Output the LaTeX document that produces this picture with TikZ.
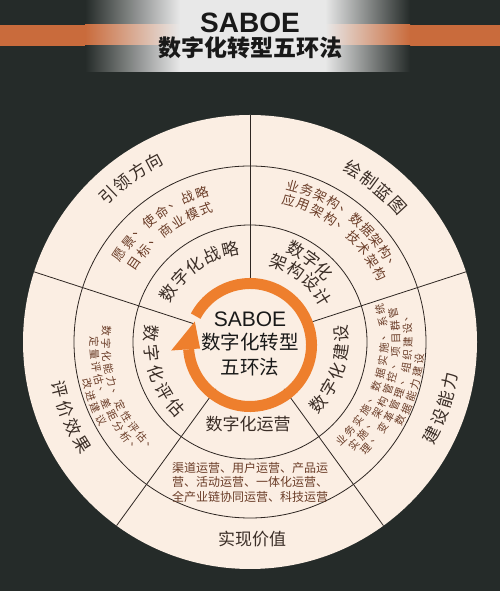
\documentclass[tikz,border=0pt]{standalone}
\usepackage{fontspec}
\newfontfamily\cjk{Noto Sans CJK SC}
\newfontfamily\lat{Liberation Sans}
\definecolor{bgc}{HTML}{252B29}
\definecolor{cream}{HTML}{FBEEE3}
\definecolor{orng}{HTML}{EE7F2D}
\definecolor{stripe}{HTML}{C96B3C}
\definecolor{panel}{HTML}{E8E8E8}
\definecolor{linec}{HTML}{2E2622}
\definecolor{txt}{HTML}{3A2D26}
\definecolor{dtxt}{HTML}{6A3C27}
% characters set along an arc round the wheel centre
% #1 name prefix, #2 centre angle, #3 radius of char centres, #4 pitch,
% #5 style, #6 direction (-1 clockwise, tops out; 1 counter-clockwise, tops in), #7 count, #8 list
\newcommand\arcchars[8]{%
  \foreach \ch [count=\i] in {#8} {%
    \pgfmathsetmacro\aa{#2+(#6)*(\i-(#7+1)/2)*(#4)/(#3)*57.29578}%
    \pgfmathsetmacro\rr{\aa+(#6)*90}%
    \node[#5,rotate=\rr] (#1-\i) at (\aa:#3) {\ch};
  }}
\tikzset{
  ringline/.style={draw=linec,line width=0.8pt},
  bigc/.style={font=\cjk\fontsize{17}{17}\selectfont,text=txt,inner sep=0pt,anchor=center},
  midc/.style={font=\cjk\fontsize{13}{13}\selectfont,text=dtxt,inner sep=0pt,anchor=center},
  smallc/.style={font=\cjk\fontsize{10.5}{10.5}\selectfont,text=dtxt,inner sep=0pt,anchor=center},
  htext/.style={font=\cjk\fontsize{17}{17}\selectfont,text=txt,inner sep=0pt},
  dtext/.style={font=\cjk\fontsize{12}{12}\selectfont,text=dtxt,inner sep=0pt},
  ctext/.style={font=\cjk\fontsize{19.5}{19.5}\selectfont,text=black!90,inner sep=0pt}
}
\begin{document}
\begin{tikzpicture}[x=1pt,y=1pt]
\useasboundingbox (0,0) rectangle (500,591);
\fill[bgc] (0,0) rectangle (500,591);
% title band
\fill[stripe] (0,545) rectangle (500,566);
\shade[left color=bgc,right color=panel] (85,566) rectangle (180,591);
\shade[left color=stripe,right color=panel] (85,545) rectangle (180,566);
\shade[left color=bgc,right color=panel] (85,519) rectangle (180,545);
\fill[panel] (180,519) rectangle (325,591);
\shade[left color=panel,right color=bgc] (325,566) rectangle (410,591);
\shade[left color=panel,right color=stripe] (325,545) rectangle (410,566);
\shade[left color=panel,right color=bgc] (325,519) rectangle (410,545);
\node[font=\lat\bfseries\fontsize{28}{28}\selectfont,text=black!90,inner sep=0pt] (t1) at (250,568) {SABOE};
\node[font=\cjk\bfseries\fontsize{23}{23}\selectfont,text=black!90,inner sep=0pt] (t2) at (250,543) {数字化转型五环法};
% wheel
\coordinate (C) at (250,249);
\fill[cream] (C) circle[radius=227];
\begin{scope}[shift={(250,249)}]
\foreach \a in {90,18,-54,-126,162} \draw[ringline] (\a:58) -- (\a:227);
\end{scope}
\draw[ringline] (C) circle[radius=176];
\draw[ringline] (C) circle[radius=117];
% orange cycle arrow
\begin{scope}[shift={(250,246)}]
\draw[orng,line width=11pt] (152:61.5) arc[start angle=152,end angle=-176,radius=61.5];
\fill[orng] (184:79) -- (184:50) -- (157:60) -- cycle;
\end{scope}
% centre text
\node[font=\lat\fontsize{21}{21}\selectfont,text=black!90,inner sep=0pt] (c1) at (250,272) {SABOE};
\node[ctext] (c2) at (250,249) {数字化转型};
\node[ctext] (c3) at (250,224) {五环法};
\begin{scope}[shift={(250,249)}]
% outer band labels
\arcchars{o1}{126}{204}{19}{bigc}{-1}{4}{引,领,方,向}
\arcchars{o2}{51}{201}{19}{bigc}{-1}{4}{绘,制,蓝,图}
\arcchars{o3}{-19}{204}{19}{bigc}{1}{4}{建,设,能,力}
\arcchars{o4}{202.8}{196.5}{20}{bigc}{1}{4}{评,价,效,果}
% name band labels
\arcchars{n1}{125.7}{95}{19.5}{bigc}{-1}{5}{数,字,化,战,略}
\arcchars{n2a}{53.5}{103}{17.5}{bigc}{-1}{3}{数,字,化}
\arcchars{n2b}{51}{85}{19}{bigc}{-1}{4}{架,构,设,计}
\arcchars{n3}{-18.4}{92}{19}{bigc}{1}{5}{数,字,化,建,设}
\arcchars{n4}{198.3}{99}{20}{bigc}{1}{5}{数,字,化,评,估}
% detail band
\arcchars{d1a}{127}{157}{15}{midc}{-1}{8}{愿,景,、,使,命,、,战,略}
\arcchars{d1b}{127}{140}{15.3}{midc}{-1}{7}{目,标,、,商,业,模,式}
\arcchars{d2a}{51.4}{162}{14.5}{midc}{-1}{10}{业,务,架,构,、,数,据,架,构,、}
\arcchars{d2b}{51.1}{147}{15}{midc}{-1}{9}{应,用,架,构,、,技,术,架,构}
\arcchars{d3a}{-16.5}{134}{13}{smallc}{1}{12}{业,务,实,施,、,数,据,实,施,、,系,统}
\arcchars{d3b}{-16.5}{146}{13}{smallc}{1}{12}{实,施,、,架,构,管,控,、,项,目,群,管}
\arcchars{d3c}{-16.5}{158}{13}{smallc}{1}{12}{理,、,变,革,管,理,、,组,织,建,设,、}
\arcchars{d3d}{-16.5}{170}{13}{smallc}{1}{6}{数,据,能,力,建,设}
\arcchars{d4a}{201}{144}{12.8}{smallc}{1}{11}{数,字,化,能,力,、,定,性,评,估,、}
\arcchars{d4b}{201}{156}{12.8}{smallc}{1}{10}{定,量,评,估,、,差,距,分,析,、}
\arcchars{d4c}{201}{168}{13}{smallc}{1}{4}{改,进,建,议}
\end{scope}
\node[htext] (o5) at (252,52) {实现价值};
\node[htext] (n5) at (248,167) {数字化运营};
\node[dtext] (d5a) at (250,123) {渠道运营、用户运营、产品运};
\node[dtext] (d5b) at (250,109) {营、活动运营、一体化运营、};
\node[dtext] (d5c) at (250,94) {全产业链协同运营、科技运营};
\end{tikzpicture}
\end{document}
